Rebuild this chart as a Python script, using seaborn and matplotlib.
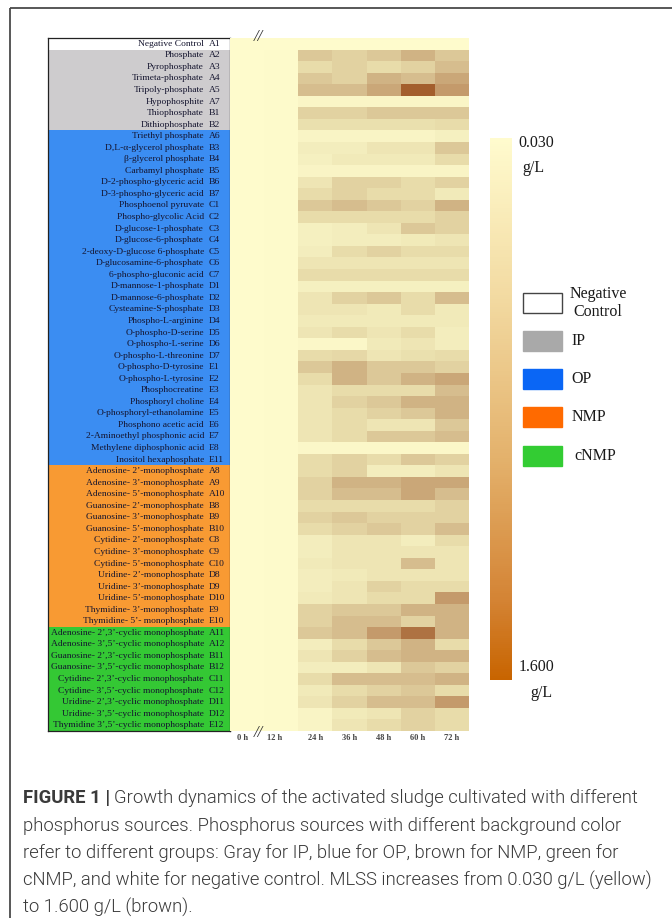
import numpy as np
import pandas as pd
import matplotlib
matplotlib.use("Agg")
import matplotlib.pyplot as plt
import seaborn as sns
from matplotlib.colors import LinearSegmentedColormap, Normalize
from matplotlib.patches import Rectangle
import matplotlib.colorbar as mcolorbar

# ---------------- data ----------------
time_labels = ["0 h", "12 h", "24 h", "36 h", "48 h", "60 h", "72 h"]

source_names = [
    "Negative Control",
    "Phosphate", "Pyrophosphate", "Trimeta-phosphate", "Tripoly-phosphate",
    "Hypophosphite", "Thiophosphate", "Dithiophosphate",
    "Triethyl phosphate", "D,L-α-glycerol phosphate", "β-glycerol phosphate",
    "Carbamyl phosphate", "D-2-phospho-glyceric acid", "D-3-phospho-glyceric acid",
    "Phosphoenol pyruvate", "Phospho-glycolic Acid", "D-glucose-1-phosphate",
    "D-glucose-6-phosphate", "2-deoxy-D-glucose 6-phosphate", "D-glucosamine-6-phosphate",
    "6-phospho-gluconic acid", "D-mannose-1-phosphate", "D-mannose-6-phosphate",
    "Cysteamine-S-phosphate", "Phospho-L-arginine", "O-phospho-D-serine",
    "O-phospho-L-serine", "O-phospho-L-threonine", "O-phospho-D-tyrosine",
    "O-phospho-L-tyrosine", "Phosphocreatine", "Phosphoryl choline",
    "O-phosphoryl-ethanolamine", "Phosphono acetic acid", "2-Aminoethyl phosphonic acid",
    "Methylene diphosphonic acid", "Inositol hexaphosphate",
    "Adenosine- 2’-monophosphate", "Adenosine- 3’-monophosphate", "Adenosine- 5’-monophosphate",
    "Guanosine- 2’-monophosphate", "Guanosine- 3’-monophosphate", "Guanosine- 5’-monophosphate",
    "Cytidine- 2’-monophosphate", "Cytidine- 3’-monophosphate", "Cytidine- 5’-monophosphate",
    "Uridine- 2’-monophosphate", "Uridine- 3’-monophosphate", "Uridine- 5’-monophosphate",
    "Thymidine- 3’-monophosphate", "Thymidine- 5’- monophosphate",
    "Adenosine- 2’,3’-cyclic monophosphate", "Adenosine- 3’,5’-cyclic monophosphate",
    "Guanosine- 2’,3’-cyclic monophosphate", "Guanosine- 3’,5’-cyclic monophosphate",
    "Cytidine- 2’,3’-cyclic monophosphate", "Cytidine- 3’,5’-cyclic monophosphate",
    "Uridine- 2’,3’-cyclic monophosphate", "Uridine- 3’,5’-cyclic monophosphate",
    "Thymidine 3’,5’-cyclic monophosphate",
]

well_codes = [
    "A1",
    "A2", "A3", "A4", "A5", "A7", "B1", "B2",
    "A6", "B3", "B4", "B5", "B6", "B7", "C1", "C2", "C3", "C4", "C5", "C6", "C7",
    "D1", "D2", "D3", "D4", "D5", "D6", "D7", "E1", "E2", "E3", "E4", "E5", "E6",
    "E7", "E8", "E11",
    "A8", "A9", "A10", "B8", "B9", "B10", "C8", "C9", "C10", "D8", "D9", "D10", "E9", "E10",
    "A11", "A12", "B11", "B12", "C11", "C12", "D11", "D12", "E12",
]

groups = (["NC"] + ["IP"] * 7 + ["OP"] * 29 + ["NMP"] * 14 + ["cNMP"] * 9)

group_names = ["Negative\nControl", "IP", "OP", "NMP", "cNMP"]

# MLSS (g/L), one list per time point
mlss_0h = [0.03, 0.03, 0.03, 0.03, 0.03, 0.03, 0.03, 0.03, 0.03, 0.03,
           0.03, 0.03, 0.03, 0.03, 0.03, 0.03, 0.03, 0.03, 0.03, 0.03,
           0.03, 0.03, 0.03, 0.03, 0.03, 0.03, 0.03, 0.03, 0.03, 0.03,
           0.03, 0.03, 0.03, 0.03, 0.03, 0.03, 0.03, 0.03, 0.03, 0.03,
           0.03, 0.03, 0.03, 0.03, 0.03, 0.03, 0.03, 0.03, 0.03, 0.03,
           0.03, 0.03, 0.03, 0.03, 0.03, 0.03, 0.03, 0.03, 0.03, 0.03]
mlss_12h = [0.03, 0.05, 0.05, 0.05, 0.05, 0.05, 0.05, 0.05, 0.05, 0.05,
            0.05, 0.05, 0.05, 0.05, 0.05, 0.05, 0.05, 0.05, 0.05, 0.05,
            0.05, 0.05, 0.05, 0.05, 0.05, 0.05, 0.05, 0.05, 0.05, 0.05,
            0.05, 0.05, 0.05, 0.05, 0.05, 0.05, 0.05, 0.05, 0.05, 0.05,
            0.05, 0.05, 0.05, 0.05, 0.05, 0.05, 0.05, 0.05, 0.05, 0.05,
            0.05, 0.05, 0.05, 0.05, 0.05, 0.05, 0.05, 0.05, 0.05, 0.05]
mlss_24h = [0.04, 0.63, 0.43, 0.63, 0.73, 0.11, 0.53, 0.39, 0.13, 0.23,
            0.19, 0.13, 0.33, 0.43, 0.63, 0.43, 0.19, 0.19, 0.23, 0.33,
            0.43, 0.19, 0.33, 0.33, 0.27, 0.33, 0.09, 0.43, 0.63, 0.43,
            0.33, 0.33, 0.33, 0.33, 0.33, 0.09, 0.43, 0.43, 0.53, 0.53,
            0.43, 0.53, 0.43, 0.23, 0.23, 0.27, 0.23, 0.23, 0.27, 0.53,
            0.53, 0.63, 0.23, 0.33, 0.23, 0.43, 0.27, 0.33, 0.13, 0.13]
mlss_36h = [0.04, 0.53, 0.53, 0.53, 0.73, 0.11, 0.53, 0.39, 0.13, 0.23,
            0.27, 0.13, 0.53, 0.53, 0.73, 0.43, 0.23, 0.23, 0.43, 0.33,
            0.43, 0.19, 0.53, 0.33, 0.27, 0.43, 0.09, 0.47, 0.83, 0.83,
            0.43, 0.53, 0.43, 0.43, 0.43, 0.09, 0.53, 0.53, 0.83, 0.73,
            0.43, 0.63, 0.53, 0.33, 0.33, 0.33, 0.27, 0.33, 0.33, 0.63,
            0.73, 0.73, 0.43, 0.53, 0.23, 0.73, 0.43, 0.53, 0.27, 0.33]
mlss_48h = [0.04, 0.63, 0.43, 0.83, 0.93, 0.11, 0.63, 0.39, 0.13, 0.33,
            0.27, 0.13, 0.53, 0.43, 0.63, 0.43, 0.33, 0.23, 0.53, 0.33,
            0.43, 0.19, 0.63, 0.27, 0.27, 0.33, 0.27, 0.33, 0.63, 0.63,
            0.43, 0.63, 0.53, 0.33, 0.63, 0.09, 0.43, 0.23, 0.83, 0.73,
            0.43, 0.53, 0.63, 0.33, 0.33, 0.33, 0.33, 0.53, 0.43, 0.63,
            0.73, 1.03, 0.63, 0.73, 0.33, 0.73, 0.53, 0.73, 0.33, 0.43]
mlss_60h = [0.04, 0.83, 0.53, 0.73, 1.33, 0.11, 0.63, 0.39, 0.13, 0.33,
            0.27, 0.13, 0.43, 0.43, 0.53, 0.43, 0.63, 0.27, 0.43, 0.33,
            0.43, 0.19, 0.43, 0.43, 0.27, 0.43, 0.33, 0.39, 0.63, 0.83,
            0.43, 0.83, 0.63, 0.33, 0.63, 0.09, 0.63, 0.23, 0.93, 0.93,
            0.43, 0.53, 0.53, 0.23, 0.33, 0.73, 0.33, 0.43, 0.43, 0.83,
            0.53, 1.23, 0.83, 0.83, 0.63, 0.73, 0.63, 0.73, 0.53, 0.53]
mlss_72h = [0.04, 0.63, 0.73, 0.93, 1.03, 0.11, 0.63, 0.43, 0.19, 0.63,
            0.43, 0.13, 0.53, 0.27, 0.83, 0.53, 0.53, 0.33, 0.43, 0.33,
            0.43, 0.19, 0.73, 0.27, 0.27, 0.23, 0.23, 0.43, 0.53, 0.93,
            0.73, 0.83, 0.83, 0.63, 0.73, 0.09, 0.53, 0.33, 0.93, 0.73,
            0.53, 0.53, 0.73, 0.43, 0.33, 0.33, 0.33, 0.43, 1.03, 0.83,
            0.83, 0.83, 0.43, 0.83, 0.53, 0.83, 0.43, 1.03, 0.43, 0.43]

mlss_min, mlss_max = 0.030, 1.600

# ---------------- styling ----------------
sns.set_theme(style="white")
plt.rcParams['font.family'] = ['Liberation Serif', 'DejaVu Serif']

W, H = 672, 918
fig = plt.figure(figsize=(W / 100, H / 100), dpi=100)
fig.patch.set_facecolor("white")


def box(x0, y0, x1, y1):
    return [x0 / W, 1 - y1 / H, (x1 - x0) / W, (y1 - y0) / H]


group_row_colors = {"NC": "#FFFFFF", "IP": "#CECCCE", "OP": "#3B8DF2",
                    "NMP": "#F89A33", "cNMP": "#34C834"}
legend_colors = {"NC": "#FFFFFF", "IP": "#A9A9A9", "OP": "#0A66F5",
                 "NMP": "#FF6A00", "cNMP": "#33CC33"}

hm_cmap = LinearSegmentedColormap.from_list("mlss_hm", [
    (0.0, "#FEFBCC"), (0.127, "#F3EDBD"), (0.255, "#E8DCAA"), (0.38, "#DCC898"),
    (0.51, "#D0B384"), (0.64, "#C49A6B"), (0.83, "#A35D2C"), (1.0, "#8C4A1A")])
cb_cmap = LinearSegmentedColormap.from_list("mlss_cb", [
    (0.0, "#FFFBCE"), (0.3, "#F2D9A0"), (0.6, "#E3B06A"), (0.85, "#D48435"),
    (1.0, "#C86400")])

df = pd.DataFrame({t: v for t, v in zip(time_labels, [mlss_0h, mlss_12h, mlss_24h, mlss_36h,
                                                        mlss_48h, mlss_60h, mlss_72h])},
                  index=[f"{n} {c}" for n, c in zip(source_names, well_codes)])
n_rows = len(df)

TOP, BOT = 38, 731

# ---------------- label table ----------------
ax_lab = fig.add_axes(box(48, TOP, 230, BOT))
ax_lab.barh(np.arange(n_rows), width=1, left=0, height=1.0,
            color=[group_row_colors[g] for g in groups], align="center", linewidth=0)
ax_lab.set_xlim(0, 1)
ax_lab.set_ylim(n_rows - 0.5, -0.5)
ax_lab.set_xticks([])
ax_lab.set_yticks([])
for s in ax_lab.spines.values():
    s.set_visible(True)
    s.set_color("#222222")
    s.set_linewidth(0.9)
for i, (nm, cd) in enumerate(zip(source_names, well_codes)):
    ax_lab.text(0.857, i, nm, ha="right", va="center", fontsize=6.8, color="#14142e")
    ax_lab.text(0.882, i, cd, ha="left", va="center", fontsize=6.8, color="#14142e")

# ---------------- heatmap ----------------
ax_hm = fig.add_axes(box(230, TOP, 469, BOT))
sns.heatmap(df, ax=ax_hm, cmap=hm_cmap, vmin=mlss_min, vmax=mlss_max, cbar=False,
            xticklabels=False, yticklabels=False, linewidths=0)
ax_hm.set_xticks([0.38, 1.3] + [i + 0.5 for i in range(2, 7)])
ax_hm.set_xticklabels(time_labels, fontsize=6, fontweight="bold", color="#444444")
ax_hm.tick_params(axis="x", length=0, pad=2.5)
ax_hm.set_ylabel("")

# ---------------- colorbar ----------------
ax_cb = fig.add_axes(box(490, 138, 512, 680))
cb = mcolorbar.ColorbarBase(ax_cb, cmap=cb_cmap, norm=Normalize(mlss_min, mlss_max),
                            orientation="vertical")
cb.outline.set_visible(False)
cb.set_ticks([])
ax_cb.invert_yaxis()

# ---------------- overlay (frame, text, legend) ----------------
ov = fig.add_axes([0, 0, 1, 1], facecolor="none")
ov.set_xlim(0, W)
ov.set_ylim(H, 0)
ov.axis("off")
ov.set_zorder(10)

ov.add_patch(Rectangle((10, 8), 720, 960, fill=False, edgecolor="#4a4a4a", linewidth=1.3))

ov.text(258, 37, "//", ha="center", va="center", fontsize=12, color="#333333", style="italic")
ov.text(258, 733, "//", ha="center", va="center", fontsize=12, color="#333333", style="italic")

lbl_kw = dict(fontsize=11.5, color="#1a1a1a")
ov.text(518, 143, "0.030", ha="left", va="center", **lbl_kw)
ov.text(522, 168, "g/L", ha="left", va="center", **lbl_kw)
ov.text(519, 667, "1.600", ha="left", va="center", **lbl_kw)
ov.text(530, 693, "g/L", ha="left", va="center", **lbl_kw)

leg_keys = ["NC", "IP", "OP", "NMP", "cNMP"]
leg_box_y = [293, 331, 369, 407, 446]
leg_text_x = [598, 571, 571, 572, 574]
for key, name, y0, tx in zip(leg_keys, group_names, leg_box_y, leg_text_x):
    ov.add_patch(Rectangle((523, y0), 39, 20, facecolor=legend_colors[key],
                           edgecolor="#444444" if key == "NC" else legend_colors[key],
                           linewidth=1.0))
    if key == "NC":
        ov.text(tx, y0 + 10, name, ha="center", va="center", multialignment="center",
                linespacing=1.15, **lbl_kw)
    else:
        ov.text(tx, y0 + 10, name, ha="left", va="center", **lbl_kw)

# ---------------- caption ----------------
cap_font = ["Roboto", "DejaVu Sans"]
cap_color = "#3a3a3a"
cap_lines = [
    "Growth dynamics of the activated sludge cultivated with different",
    "phosphorus sources. Phosphorus sources with different background color",
    "refer to different groups: Gray for IP, blue for OP, brown for NMP, green for",
    "cNMP, and white for negative control. MLSS increases from 0.030 g/L (yellow)",
    "to 1.600 g/L (brown).",
]
cap_y = [798, 826, 853, 880, 907]
fig.canvas.draw()
renderer = fig.canvas.get_renderer()
probe = ov.text(23, cap_y[3], cap_lines[3], family=cap_font, fontsize=12, fontweight=300,
                ha="left", va="center")
w = probe.get_window_extent(renderer).width
probe.remove()
cap_fs = 12 * (650 - 23) / w

head = ov.text(23, cap_y[0], "FIGURE 1 |", family=cap_font, fontsize=cap_fs, fontweight="bold",
               color=cap_color, ha="left", va="center")
hb = head.get_window_extent(renderer)
ov.text(hb.x1 + 4, cap_y[0], cap_lines[0], family=cap_font, fontsize=cap_fs, fontweight=300,
        color=cap_color, ha="left", va="center")
for ln, y in zip(cap_lines[1:], cap_y[1:]):
    ov.text(23, y, ln, family=cap_font, fontsize=cap_fs, fontweight=300, color=cap_color,
            ha="left", va="center")

fig.savefig("out.png", dpi=100, facecolor="white")
